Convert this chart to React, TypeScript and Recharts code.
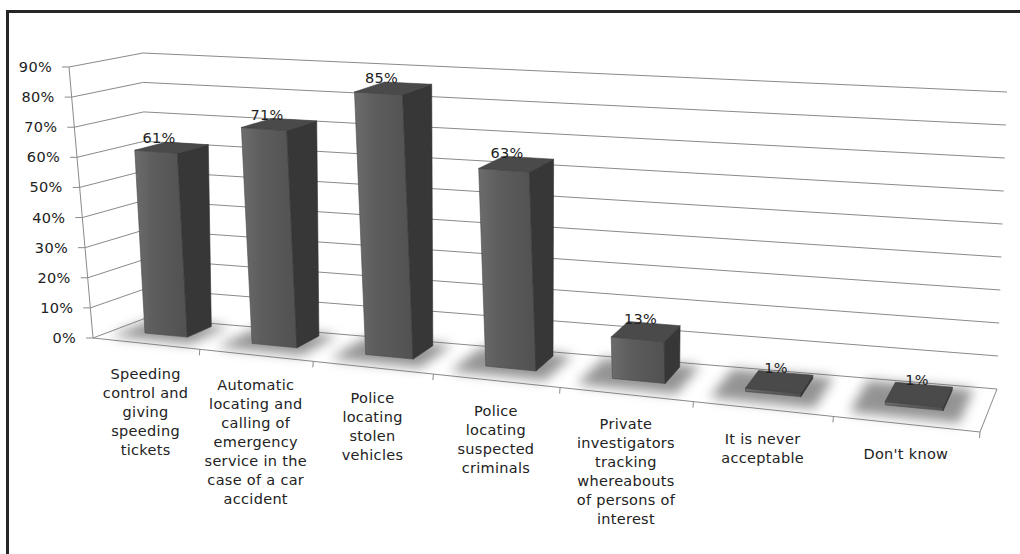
import React from 'react';
import { BarChart, Bar, XAxis, YAxis, CartesianGrid, LabelList } from 'recharts';

const categoryLines = [
    ['Speeding', 'control and', 'giving', 'speeding', 'tickets'],
    ['Automatic', 'locating and', 'calling of', 'emergency', 'service in the', 'case of a car', 'accident'],
    ['Police', 'locating', 'stolen', 'vehicles'],
    ['Police', 'locating', 'suspected', 'criminals'],
    ['Private', 'investigators', 'tracking', 'whereabouts', 'of persons of', 'interest'],
    ['It is never', 'acceptable'],
    ["Don't know"],
];
const categories = categoryLines.map((l) => l.join(' '));
const values = [61, 71, 85, 63, 13, 1, 1];
const yTicks = [0, 10, 20, 30, 40, 50, 60, 70, 80, 90];

const data = categories.map((name, i) => ({ name, value: values[i] }));

const W = 1020;
const H = 554;
// flat plot area that recharts lays out, later warped into the 3D box
const PL = 100;
const PT = 50;
const PW = 800;
const PH = 300;
const Y_AXIS_W = 40;
const X_AXIS_H = 30;

// screen corners of the 3D box: Front/Back, Bottom/Top, Left/Right
const FBL = [93, 338];
const FBR = [980, 432];
const BBL = [146, 318];
const BBR = [997, 389];
const FTL = [69, 67];
const FTR = [969, 128];
const BTL = [143, 53];
const BTR = [1007, 92];

const D0 = 0.4;
const D1 = 0.88;

const FONT = "'DejaVu Sans', Verdana, sans-serif";
const FS = 14.5;
const TEXT = '#222';
const GRID = '#8a8a8a';

const warp = (u: number) => u - 0.183 * u * (1 - u);
const mix = (a: number[], b: number[], t: number) => [a[0] + (b[0] - a[0]) * t, a[1] + (b[1] - a[1]) * t];

function proj(u: number, h: number, d: number) {
    const w = warp(u);
    const f = mix(mix(FBL, FBR, w), mix(FTL, FTR, w), h);
    const b = mix(mix(BBL, BBR, w), mix(BTL, BTR, w), h);
    return mix(f, b, d);
}

const pts = (list: number[][]) => list.map((p) => `${p[0].toFixed(1)},${p[1].toFixed(1)}`).join(' ');

const GridLine = (props: any) => {
    const h = (PT + PH - props.y1) / PH;
    const wall = pts([proj(0, h, 0), proj(0, h, 1), proj(1, h, 1)]);
    const isFloor = Math.abs(h) < 0.001;
    return (
        <g key={`gl-${props.index}`}>
            <polyline points={wall} fill="none" stroke={GRID} strokeWidth={1} />
            {isFloor && (
                <>
                    <polyline
                        points={pts([proj(0, 0, 0), proj(1, 0, 0), proj(1, 0, 1)])}
                        fill="none"
                        stroke={GRID}
                        strokeWidth={1}
                    />
                    <polyline points={pts([proj(0, 0, 0), proj(0, 1, 0)])} fill="none" stroke={GRID} strokeWidth={1} />
                    {categories.map((_, i) => {
                        const [tx, ty] = proj((i + 1) / categories.length, 0, 0);
                        return <line key={i} x1={tx} y1={ty} x2={tx - 0.5} y2={ty + 6} stroke={GRID} />;
                    })}
                </>
            )}
        </g>
    );
};

const YTick = (props: any) => {
    const { y, payload } = props;
    const h = (PT + PH - y) / PH;
    const [ax, ay] = proj(0, h, 0);
    return (
        <g>
            <line x1={ax - 7} y1={ay} x2={ax} y2={ay} stroke={GRID} />
            <text x={ax - 17} y={ay + 5} textAnchor="end" fontFamily={FONT} fontSize={FS} letterSpacing={0.3} fill={TEXT}>
                {payload.value}%
            </text>
        </g>
    );
};

const XTick = (props: any) => {
    const { x, payload } = props;
    const u = (x - PL) / PW;
    const [cx, cy] = proj(u, 0, 0);
    const lines = categoryLines[categories.indexOf(payload.value)] || [];
    return (
        <text x={cx} y={cy + 35} textAnchor="middle" fontFamily={FONT} fontSize={FS} letterSpacing={0.3} fill={TEXT}>
            {lines.map((l, i) => (
                <tspan key={i} x={cx} dy={i === 0 ? 0 : 19}>
                    {l}
                </tspan>
            ))}
        </text>
    );
};

const Box3D = (props: any) => {
    const { x, y, width, index } = props;
    const u0 = (x - PL) / PW;
    const u1 = (x + width - PL) / PW;
    const h = (PT + PH - y) / PH;
    const front = [proj(u0, 0, D0), proj(u1, 0, D0), proj(u1, h, D0), proj(u0, h, D0)];
    const side = [proj(u1, 0, D0), proj(u1, 0, D1), proj(u1, h, D1), proj(u1, h, D0)];
    const top = [proj(u0, h, D0), proj(u1, h, D0), proj(u1, h, D1), proj(u0, h, D1)];
    const shadow = [proj(u0 - 0.03, 0, 0.15), proj(u1 + 0.02, 0, 0.15), proj(u1 + 0.02, 0, 0.95), proj(u0 - 0.03, 0, 0.95)];
    return (
        <g>
            <defs>
                <filter id={`sh${index}`} x="-50%" y="-50%" width="200%" height="200%">
                    <feGaussianBlur stdDeviation={6} />
                </filter>
                <linearGradient id={`fg${index}`} x1="0" y1="0" x2="1" y2="0">
                    <stop offset="0" stopColor="#6c6c6c" />
                    <stop offset="0.35" stopColor="#5d5d5d" />
                    <stop offset="1" stopColor="#515151" />
                </linearGradient>
            </defs>
            <polygon points={pts(shadow)} fill="#666" opacity={0.7} filter={`url(#sh${index})`} />
            <polygon points={pts(front)} fill={`url(#fg${index})`} stroke="#4a4a4a" strokeWidth={0.6} />
            <polygon points={pts(side)} fill="#373737" stroke="#303030" strokeWidth={0.6} />
            <polygon points={pts(top)} fill="#4a4a4a" stroke="#3e3e3e" strokeWidth={0.6} />
        </g>
    );
};

const ValueLabel = (props: any) => {
    const { x, y, width, value } = props;
    const u0 = (x - PL) / PW;
    const u1 = (x + width - PL) / PW;
    const h = (PT + PH - y) / PH;
    const [fx] = proj((u0 + u1) / 2, h, D0);
    const [, by] = proj((u0 + u1) / 2, h, D1);
    return (
        <text x={fx + 3} y={by} textAnchor="middle" fontFamily={FONT} fontSize={FS} letterSpacing={0.3} fill={TEXT}>
            {value}%
        </text>
    );
};

export default function App() {
    return (
        <div style={{ position: 'absolute', left: 0, top: 0, width: W, height: H, background: '#fff', overflow: 'hidden' }}>
            <div
                style={{
                    position: 'absolute',
                    left: 6,
                    top: 10,
                    width: 1100,
                    height: 700,
                    borderLeft: '3px solid #262626',
                    borderTop: '3px solid #262626',
                }}
            />
            <div style={{ position: 'absolute', left: 0, top: 0 }}>
                <BarChart
                    width={W}
                    height={H}
                    data={data}
                    margin={{
                        top: PT,
                        left: PL - Y_AXIS_W,
                        right: W - PL - PW,
                        bottom: H - PT - PH - X_AXIS_H,
                    }}
                    barCategoryGap="30%"
                >
                    <CartesianGrid vertical={false} horizontal={(p: any) => <GridLine {...p} />} />
                    <XAxis
                        dataKey="name"
                        height={X_AXIS_H}
                        interval={0}
                        axisLine={false}
                        tickLine={false}
                        tick={<XTick />}
                    />
                    <YAxis
                        width={Y_AXIS_W}
                        domain={[0, 90]}
                        ticks={yTicks}
                        axisLine={false}
                        tickLine={false}
                        tick={<YTick />}
                    />
                    <Bar dataKey="value" isAnimationActive={false} shape={<Box3D />}>
                        <LabelList dataKey="value" content={<ValueLabel />} />
                    </Bar>
                </BarChart>
            </div>
        </div>
    );
}
